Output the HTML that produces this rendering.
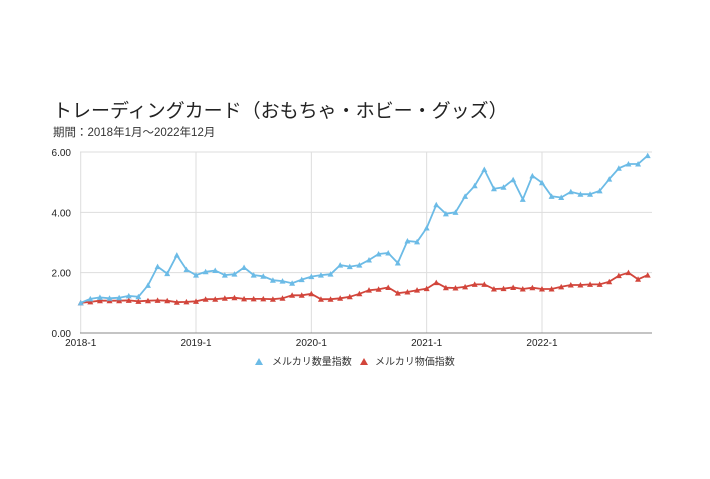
<!DOCTYPE html>
<html><head><meta charset="utf-8"><style>
body{margin:0;background:#fff;width:710px;height:474px;overflow:hidden;font-family:"Liberation Sans","Noto Sans CJK JP",sans-serif}
</style></head><body>
<svg id="s" width="710" height="474" xmlns="http://www.w3.org/2000/svg" font-family="Liberation Sans, Noto Sans CJK JP, sans-serif">
<text x="53" y="117" font-size="19" fill="#222">トレーディングカード（おもちゃ・ホビー・グッズ）</text>
<text x="53" y="136" font-size="11.5" fill="#333">期間：2018年1月〜2022年12月</text>
<g id="g"></g>
<g font-size="10" fill="#333">
<text x="272" y="365">メルカリ数量指数</text>
<text x="375" y="365">メルカリ物価指数</text>
</g>
<polygon points="255,365 259,358 263,365" fill="#6cbbe6"/>
<polygon points="360,365 364,358 368,365" fill="#d2453b"/>
</svg>
<script>
var blue=[1.0,1.13,1.18,1.15,1.17,1.23,1.2,1.58,2.2,1.97,2.58,2.1,
1.92,2.03,2.07,1.92,1.95,2.17,1.92,1.88,1.75,1.72,1.65,1.77,
1.87,1.92,1.95,2.25,2.2,2.25,2.42,2.62,2.65,2.32,3.05,3.02,
3.48,4.25,3.95,4.0,4.53,4.88,5.42,4.78,4.83,5.08,4.43,5.21,
4.98,4.53,4.49,4.68,4.6,4.6,4.71,5.1,5.46,5.6,5.6,5.88];
var red=[1.0,1.03,1.07,1.07,1.07,1.08,1.05,1.07,1.08,1.07,1.02,1.03,
1.05,1.12,1.12,1.15,1.17,1.13,1.13,1.13,1.12,1.15,1.25,1.25,
1.3,1.12,1.12,1.15,1.2,1.3,1.42,1.45,1.51,1.32,1.36,1.42,
1.47,1.67,1.5,1.49,1.53,1.61,1.61,1.46,1.47,1.51,1.46,1.5,
1.46,1.46,1.53,1.59,1.59,1.61,1.61,1.7,1.9,2.0,1.78,1.92];
var x0=80.7,dx=9.61,y0=333,sy=30.17;
var h='';
[0,2,4,6].forEach(function(v,i){var y=y0-v*sy;
 if(v>0)h+='<line x1="80" x2="652" y1="'+y+'" y2="'+y+'" stroke="#ddd" stroke-width="1"/>';
 h+='<text x="71" y="'+(y+4)+'" font-size="10" fill="#222" text-anchor="end">'+v.toFixed(2)+'</text>';});
for(var k=0;k<5;k++){var x=x0+k*12*dx;
 h+='<line x1="'+x+'" x2="'+x+'" y1="152" y2="333" stroke="#ddd"/>';
 h+='<text x="'+x+'" y="346" font-size="10" fill="#222" text-anchor="middle">'+(2018+k)+'-1</text>';}
h+='<line x1="80" x2="652" y1="333" y2="333" stroke="#888" stroke-width="1"/>';
function ser(d,c){var p=d.map(function(v,i){return (x0+i*dx).toFixed(1)+','+(y0-v*sy).toFixed(1)}).join(' ');
 var s='<polyline points="'+p+'" fill="none" stroke="'+c+'" stroke-width="1.8"/>';
 d.forEach(function(v,i){var x=x0+i*dx,y=y0-v*sy;s+='<polygon points="'+(x-3)+','+(y+2.5)+' '+x+','+(y-3)+' '+(x+3)+','+(y+2.5)+'" fill="'+c+'"/>';});
 return s;}
h+=ser(red,'#d2453b')+ser(blue,'#6cbbe6');
document.getElementById('g').innerHTML=h;
</script>
</body></html>
